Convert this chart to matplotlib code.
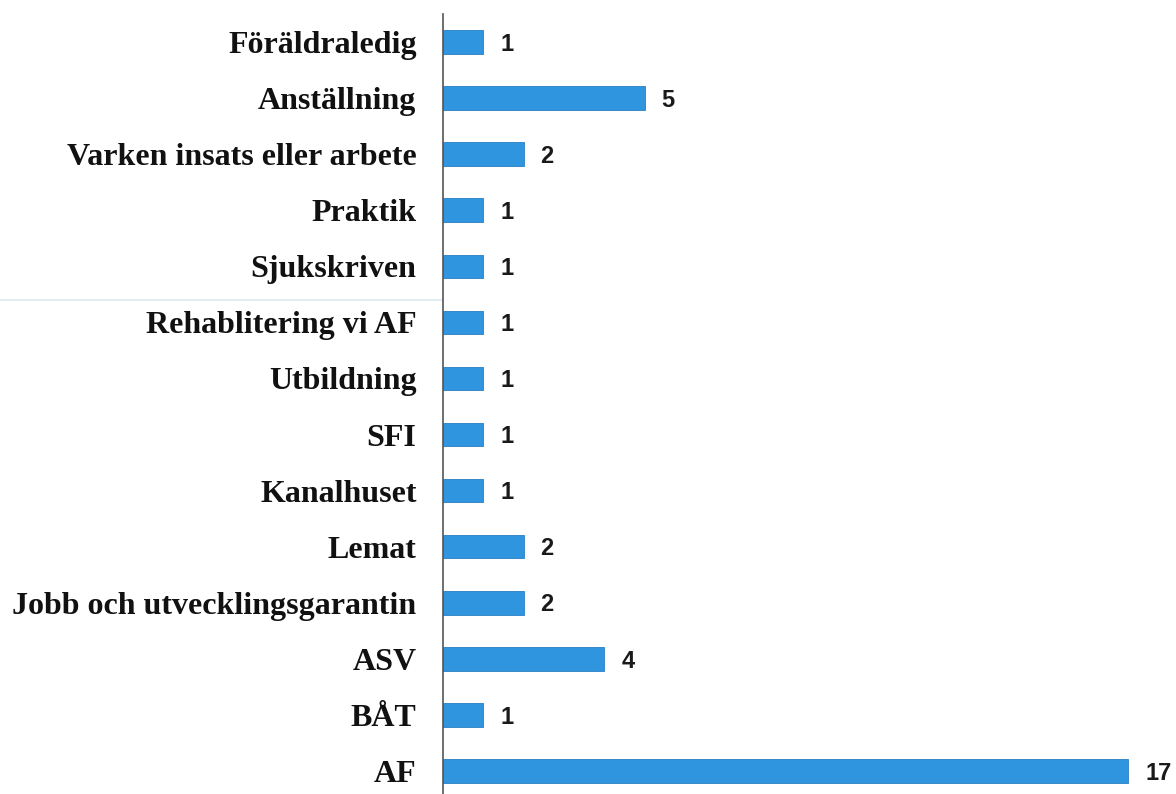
import matplotlib
matplotlib.use("Agg")
import matplotlib.pyplot as plt
from matplotlib.lines import Line2D

categories = ["Föräldraledig", "Anställning", "Varken insats eller arbete", "Praktik",
              "Sjukskriven", "Rehablitering vi AF", "Utbildning", "SFI", "Kanalhuset",
              "Lemat", "Jobb och utvecklingsgarantin", "ASV", "BÅT", "AF"]
values = [1, 5, 2, 1, 1, 1, 1, 1, 1, 2, 2, 4, 1, 17]

fig = plt.figure(figsize=(11.76, 7.94), dpi=100)
ax = fig.add_axes([443/1176, -5/794, 1 - 443/1176, 785/794])

ypos = list(range(len(categories)))[::-1]
ax.barh(ypos, values, height=0.42, color="#2f95de", edgecolor="#2a7fc4", linewidth=0.6)

for y, v in zip(ypos, values):
    ax.text(v + 0.42, y - 0.04, str(v), va="center", ha="left", fontsize=17,
            fontweight="bold", family="Liberation Sans", color="#1a1a1a")

ax.set_yticks(ypos)
ax.set_yticklabels(categories, fontsize=23, fontweight="bold", family="Liberation Serif", color="#111111")
ax.tick_params(axis="y", length=0, pad=19)
ax.set_xticks([])
ax.set_xlim(0, (1176 - 445) / 40.2)
ax.set_ylim(-0.5, 13.5)
for s in ["top", "right", "bottom"]:
    ax.spines[s].set_visible(False)
ax.spines["left"].set_color("#555555")
ax.spines["left"].set_linewidth(1.2)

fig.add_artist(Line2D([0, 1], [1 - 300/794, 1 - 300/794], color="#e3ecf1", lw=1.5, zorder=-1))

fig.savefig("out.png", dpi=100, facecolor="white")
